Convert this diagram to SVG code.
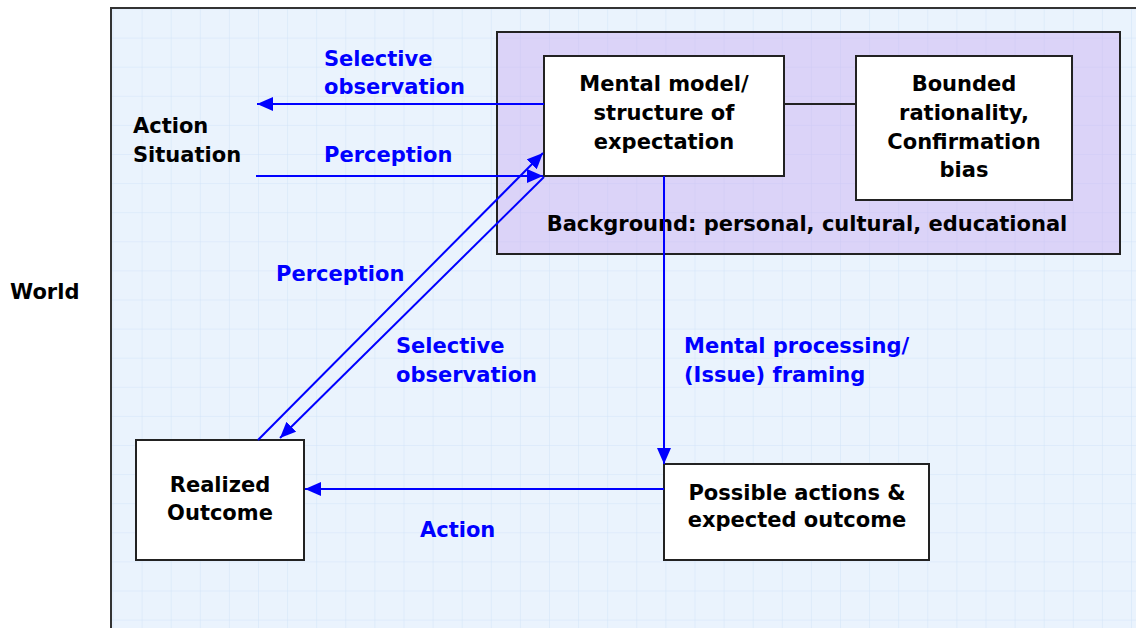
<svg xmlns="http://www.w3.org/2000/svg" width="1136" height="628" viewBox="0 0 1136 628">
<style>
text{font-family:"DejaVu Sans","Liberation Sans",sans-serif;font-weight:bold;font-size:21px}
.k{fill:#000}
.b{fill:#0000ff}
.m{text-anchor:middle}
.box{fill:#fff;stroke:#222;stroke-width:2}
.con{stroke:#0000ff;stroke-width:2;fill:none;marker-end:url(#ah)}
</style>
<defs>
<pattern id="grid" x="112.5" y="8.5" width="29.1" height="29.1" patternUnits="userSpaceOnUse">
<rect width="29.1" height="29.1" fill="#eaf3fd"/>
<path d="M0,0 H29.1 M0,0 V29.1" stroke="#d2e4f9" stroke-width="1" fill="none"/>
</pattern>
<marker id="ah" markerWidth="16" markerHeight="14" refX="16" refY="7" orient="auto" markerUnits="userSpaceOnUse">
<path d="M0,0 L16,7 L0,14 z" fill="#0000ff"/>
</marker>
</defs>
<rect width="1136" height="628" fill="#fff"/>
<rect id="frame" x="111" y="8" width="1030" height="630" fill="url(#grid)" stroke="#333" stroke-width="2"/>
<g id="background">
<rect x="497" y="32" width="623" height="222" fill="#cbb0f2" fill-opacity="0.48" stroke="#222" stroke-width="2"/>
<text class="k m" x="807" y="231">Background: personal, cultural, educational</text>
</g>
<g id="mental-model">
<rect class="box" x="544" y="56" width="240" height="120"/>
<text class="k m" x="664" y="91">Mental model/</text>
<text class="k m" x="664" y="120">structure of</text>
<text class="k m" x="664" y="149">expectation</text>
</g>
<g id="bounded">
<rect class="box" x="856" y="56" width="216" height="144"/>
<text class="k m" x="964" y="91">Bounded</text>
<text class="k m" x="964" y="120">rationality,</text>
<text class="k m" x="964" y="149">Confirmation</text>
<text class="k m" x="964" y="177">bias</text>
</g>
<g id="action-situation">
<text class="k" x="133" y="133">Action</text>
<text class="k" x="133" y="162">Situation</text>
</g>
<g id="world">
<text class="k" x="10" y="299">World</text>
</g>
<g id="realized">
<rect class="box" x="136" y="440" width="168" height="120"/>
<text class="k m" x="220" y="492">Realized</text>
<text class="k m" x="220" y="520">Outcome</text>
</g>
<g id="possible">
<rect class="box" x="664" y="464" width="265" height="96"/>
<text class="k m" x="797" y="500">Possible actions &amp;</text>
<text class="k m" x="797" y="527">expected outcome</text>
</g>
<g id="connectors">
<line x1="784" y1="104" x2="856" y2="104" stroke="#222" stroke-width="2"/>
<line class="con" x1="544" y1="104" x2="257" y2="104"/>
<line class="con" x1="256" y1="176" x2="543" y2="176"/>
<line class="con" x1="258" y1="440" x2="543" y2="153"/>
<line class="con" x1="544" y1="177" x2="280" y2="438"/>
<line class="con" x1="664" y1="176" x2="664" y2="464"/>
<line class="con" x1="664" y1="489" x2="305" y2="489"/>
<text class="b" x="324" y="66">Selective</text>
<text class="b" x="324" y="94">observation</text>
<text class="b" x="324" y="162">Perception</text>
<text class="b" x="276" y="281">Perception</text>
<text class="b" x="396" y="353">Selective</text>
<text class="b" x="396" y="382">observation</text>
<text class="b" x="684" y="353">Mental processing/</text>
<text class="b" x="684" y="382">(Issue) framing</text>
<text class="b" x="420" y="537">Action</text>
</g>
</svg>
